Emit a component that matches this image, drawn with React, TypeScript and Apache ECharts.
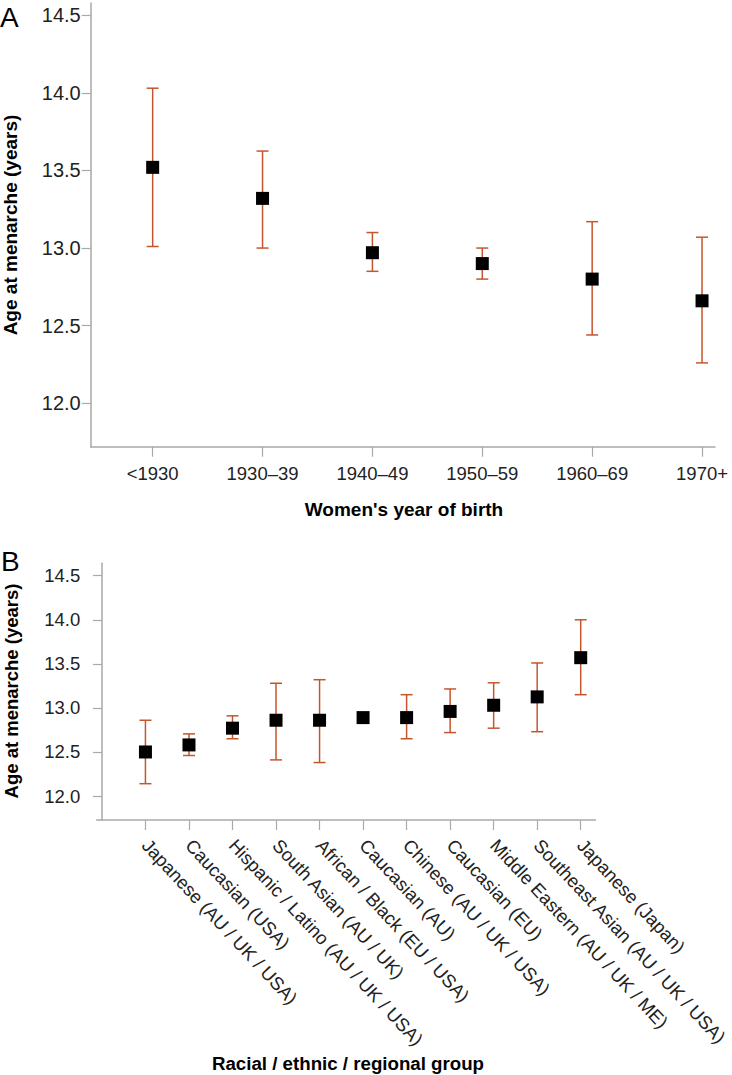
import React, { useEffect, useRef } from "react";
import * as echarts from "echarts";

// ---- Data ----
const catsA = ["<1930", "1930–39", "1940–49", "1950–59", "1960–69", "1970+"];
const meanA = [13.52, 13.32, 12.97, 12.9, 12.8, 12.66];
const lowA = [13.01, 13.0, 12.85, 12.8, 12.44, 12.26];
const highA = [14.03, 13.625, 13.1, 13.0, 13.17, 13.07];

const catsB = [
  "Japanese (AU / UK / USA)",
  "Caucasian (USA)",
  "Hispanic / Latino (AU / UK / USA)",
  "South Asian (AU / UK)",
  "African / Black (EU / USA)",
  "Caucasian (AU)",
  "Chinese (AU / UK / USA)",
  "Caucasian (EU)",
  "Middle Eastern (AU / UK / ME)",
  "Southeast Asian (AU / UK / USA)",
  "Japanese (Japan)",
];
const meanB = [12.5, 12.58, 12.77, 12.86, 12.86, 12.89, 12.89, 12.96, 13.03, 13.125, 13.57];
const lowB: (number | null)[] = [12.14, 12.46, 12.65, 12.41, 12.38, null, 12.65, 12.72, 12.77, 12.73, 13.15];
const highB: (number | null)[] = [12.86, 12.705, 12.91, 13.28, 13.32, null, 13.15, 13.215, 13.285, 13.51, 14.0];

const yTicks = [12.0, 12.5, 13.0, 13.5, 14.0, 14.5];

const titleA = "Women's year of birth";
const titleB = "Racial / ethnic / regional group";
const yName = "Age at menarche (years)";

// ---- Styles ----
const FONT = "'Liberation Sans', Arial, Helvetica, sans-serif";
const ERR = "#C4562E";
const AXIS = "#A9A9A9";
const LABEL = "#222222";

function errRender(params: any, api: any) {
  const xv = api.value(0);
  const lo = api.value(1);
  const hi = api.value(2);
  const pLo = api.coord([xv, lo]);
  const pHi = api.coord([xv, hi]);
  const hw = 6;
  const style = { stroke: ERR, lineWidth: 1.5, fill: null };
  return {
    type: "group",
    children: [
      { type: "line", shape: { x1: pLo[0], y1: pLo[1], x2: pHi[0], y2: pHi[1] }, style },
      { type: "line", shape: { x1: pLo[0] - hw, y1: pLo[1], x2: pLo[0] + hw, y2: pLo[1] }, style },
      { type: "line", shape: { x1: pHi[0] - hw, y1: pHi[1], x2: pHi[0] + hw, y2: pHi[1] }, style },
    ],
  };
}

function buildErr(low: (number | null)[], high: (number | null)[]) {
  const out: number[][] = [];
  low.forEach((l, i) => {
    const h = high[i];
    if (l != null && h != null) out.push([i + 1, l, h]);
  });
  return out;
}

function yAxisCfg(gridIndex: number, min: number, max: number, margin: number, fontSize: number) {
  return {
    type: "value",
    gridIndex,
    min,
    max,
    axisLine: { show: true, lineStyle: { color: AXIS, width: 1.5 } },
    axisTick: { show: true, length: 9, customValues: yTicks, lineStyle: { color: AXIS, width: 1.2 } },
    axisLabel: {
      customValues: yTicks,
      margin,
      color: LABEL,
      fontFamily: FONT,
      fontSize,
      formatter: (v: number) => v.toFixed(1),
    },
    splitLine: { show: false },
  };
}

function buildOption() {
  const idxA = catsA.map((_, i) => i + 1);
  const idxB = catsB.map((_, i) => i + 1);
  return {
    animation: false,
    backgroundColor: "#ffffff",
    grid: [
      { left: 90.7, top: 3, width: 624.3, height: 443.7 },
      { left: 96.7, top: 563.3, width: 506.3, height: 256.7 },
    ],
    xAxis: [
      {
        type: "value",
        gridIndex: 0,
        min: 0.436,
        max: 6.118,
        axisLine: { show: true, lineStyle: { color: AXIS, width: 1.5 } },
        axisTick: { show: true, length: 10, customValues: idxA, lineStyle: { color: AXIS, width: 1.2 } },
        axisLabel: {
          customValues: idxA,
          margin: 17,
          color: LABEL,
          fontFamily: FONT,
          fontSize: 18.5,
          formatter: (v: number) => catsA[Math.round(v) - 1] ?? "",
        },
        splitLine: { show: false },
      },
      {
        type: "value",
        gridIndex: 1,
        min: -0.12,
        max: 11.34,
        axisLine: { show: true, lineStyle: { color: AXIS, width: 1.5 } },
        axisTick: { show: true, length: 10, customValues: idxB, lineStyle: { color: AXIS, width: 1.2 } },
        axisLabel: {
          customValues: idxB,
          margin: 22,
          rotate: -47,
          color: LABEL,
          fontFamily: FONT,
          fontSize: 18.5,
          formatter: (v: number) => catsB[Math.round(v) - 1] ?? "",
        },
        splitLine: { show: false },
      },
    ],
    yAxis: [yAxisCfg(0, 11.72, 14.579, 10, 20), yAxisCfg(1, 11.728, 14.641, 16.5, 18.5)],
    series: [
      {
        type: "custom",
        xAxisIndex: 0,
        yAxisIndex: 0,
        renderItem: errRender,
        encode: { x: 0, y: [1, 2] },
        data: buildErr(lowA, highA),
        z: 2,
      },
      {
        type: "scatter",
        xAxisIndex: 0,
        yAxisIndex: 0,
        symbol: "rect",
        symbolSize: 13,
        itemStyle: { color: "#000000", opacity: 1 },
        data: meanA.map((m, i) => [i + 1, m]),
        z: 3,
      },
      {
        type: "custom",
        xAxisIndex: 1,
        yAxisIndex: 1,
        renderItem: errRender,
        encode: { x: 0, y: [1, 2] },
        data: buildErr(lowB, highB),
        z: 2,
      },
      {
        type: "scatter",
        xAxisIndex: 1,
        yAxisIndex: 1,
        symbol: "rect",
        symbolSize: 13,
        itemStyle: { color: "#000000", opacity: 1 },
        data: meanB.map((m, i) => [i + 1, m]),
        z: 3,
      },
    ],
    graphic: [
      {
        type: "text",
        left: 0,
        top: 3,
        style: { text: "A", fontFamily: FONT, fontSize: 28, fill: "#000" },
      },
      {
        type: "text",
        left: 1,
        top: 547,
        style: { text: "B", fontFamily: FONT, fontSize: 28, fill: "#000" },
      },
      {
        type: "text",
        x: 404,
        y: 509,
        style: {
          text: titleA,
          fontFamily: FONT,
          fontSize: 19,
          fontWeight: "bold",
          fill: "#000",
          textAlign: "center",
          textVerticalAlign: "middle",
        },
      },
      {
        type: "text",
        x: 348,
        y: 1063,
        style: {
          text: titleB,
          fontFamily: FONT,
          fontSize: 18.7,
          fontWeight: "bold",
          fill: "#000",
          textAlign: "center",
          textVerticalAlign: "middle",
        },
      },
      {
        type: "text",
        x: 10,
        y: 225,
        rotation: Math.PI / 2,
        style: {
          text: yName,
          fontFamily: FONT,
          fontSize: 19,
          fontWeight: "bold",
          fill: "#000",
          textAlign: "center",
          textVerticalAlign: "middle",
        },
      },
      {
        type: "text",
        x: 11,
        y: 691,
        rotation: Math.PI / 2,
        style: {
          text: yName,
          fontFamily: FONT,
          fontSize: 18.5,
          fontWeight: "bold",
          fill: "#000",
          textAlign: "center",
          textVerticalAlign: "middle",
        },
      },
    ],
  };
}

export default function App() {
  const ref = useRef<HTMLDivElement>(null);
  useEffect(() => {
    document.body.style.margin = "0";
    if (!ref.current) return;
    const chart = echarts.init(ref.current, null, { renderer: "svg" });
    chart.setOption(buildOption() as any);
    return () => chart.dispose();
  }, []);
  return <div ref={ref} style={{ width: 732, height: 1075 }} />;
}
